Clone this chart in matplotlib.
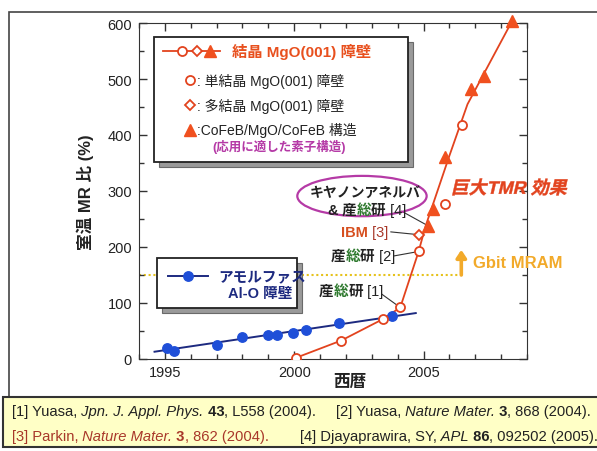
import matplotlib.pyplot as plt
from matplotlib.font_manager import FontProperties
from matplotlib.patches import Ellipse, PathPatch, Rectangle
from matplotlib.textpath import TextPath
from matplotlib.ticker import MultipleLocator
from matplotlib.transforms import Affine2D, ScaledTranslation

plt.rcParams['font.family'] = ['Liberation Sans', 'Noto Sans CJK JP']

# amorphous Al-O barrier
alo_years = [1995.1, 1995.35, 1997.0, 1998.0, 1999.0, 1999.35, 1999.95, 2000.45, 2001.75, 2003.78]
alo_mr = [20, 14, 25, 39, 43, 43, 46, 52, 64, 76]
alo_fit_years = [1994.6, 2004.7]
alo_fit_mr = [13, 82]

# crystalline MgO(001) barriers
sc_years = [2000.06, 2001.82, 2003.42, 2004.1, 2004.81, 2005.83, 2006.47]
sc_mr = [2, 33, 71, 92, 192, 276, 417]
poly_years = [2004.81]
poly_mr = [222]
cofeb_years = [2005.17, 2005.38, 2005.83, 2006.83, 2007.35, 2008.43]
cofeb_mr = [238, 268, 360, 482, 505, 604]
mgo_fit_years = [2000.06, 2001.82, 2003.42, 2004.1, 2004.81, 2005.07, 2006.0, 2006.7, 2008.43]
mgo_fit_mr = [2, 33, 71, 92, 192, 236, 363, 455, 604]

gbit_level = 150
gbit_span = [1994.0, 2006.35]

references = [
    ("[1] Yuasa,", " Jpn. J. Appl. Phys.", " 43", ", L558 (2004)."),
    ("[2] Yuasa,", " Nature Mater.", " 3", ", 868 (2004)."),
    ("[3] Parkin,", " Nature Mater.", " 3", ", 862 (2004)."),
    ("[4] Djayaprawira, SY,", " APL", " 86", ", 092502 (2005)."),
]

RED = '#e2431e'
TRI = '#f0501f'
NAVY = '#1d2a80'
BLUE = '#1f4fd8'
DARK = '#222222'
GREEN = '#2f7a2f'
MAGENTA = '#b53aa6'
GOLD = '#e6c21c'
ORANGE = '#f2aa2a'
BROWN = '#a8382a'


def chain_text(ax, x, y, pieces, size, transform=None, zorder=7):
    """Write text pieces with different styles one after another."""
    if transform is None:
        transform = ax.transData
    s, kw = pieces[0]
    first = ax.text(x, y, s, transform=transform, fontsize=size, ha='left',
                    va='center', zorder=zorder, **kw)
    t = first
    for s, kw in pieces[1:]:
        t = ax.annotate(s, xy=(1, 0), xycoords=t, fontsize=size, ha='left',
                        va='bottom', zorder=zorder, **kw)
    return first, t


def aist(tag, color=DARK):
    return [("産", dict(color=DARK, fontweight='bold')),
            ("総", dict(color=GREEN, fontweight='bold')),
            ("研", dict(color=DARK, fontweight='bold')),
            (tag, dict(color=color))]


fig = plt.figure(figsize=(5.97, 4.52), dpi=100)
ax = fig.add_axes([139 / 597, 92 / 452, 388 / 597, 336 / 452])

# overlay for the outer frame and the reference box
ov = fig.add_axes([0, 0, 1, 1], zorder=-1)
ov.axis('off')
ov.set_xlim(0, 1)
ov.set_ylim(0, 1)
ov.add_patch(Rectangle((9 / 597, 54 / 452), 1.0, 385 / 452, fill=False,
                       ec='#444444', lw=1.2, clip_on=False))

foot = fig.add_axes([0, 0, 1, 1], zorder=3)
foot.axis('off')
foot.set_xlim(0, 1)
foot.set_ylim(0, 1)
foot.add_patch(Rectangle((3 / 597, 4 / 452), 1.0, 50 / 452, fc='#ffffc6',
                         ec='#333333', lw=1.5, clip_on=False))
# left entries start at a fixed x, right entries end at a fixed x (pixels)
ref_pos = [(12, 0.0885, DARK, 'left'), (591, 0.0885, DARK, 'right'),
           (12, 0.0332, BROWN, 'left'), (598, 0.0332, DARK, 'right')]
right_groups = []
for (lead, journal, vol, rest), (px, fy, col, side) in zip(references, ref_pos):
    first, last = chain_text(foot, px / 597, fy,
                             [(lead, dict(color=col)),
                              (journal, dict(color=col, style='italic')),
                              (vol, dict(color=col, fontweight='bold')),
                              (rest, dict(color=col))],
                             size=10.6, transform=foot.transAxes)
    if side == 'right':
        right_groups.append((first, last, px))

fig.canvas.draw()
for first, last, px in right_groups:
    x1 = last.get_window_extent().x1
    x0, y0 = first.get_position()
    first.set_position((x0 + (px - x1) / 597, y0))

# data
ax.plot(gbit_span, [gbit_level] * 2, color=GOLD, lw=1.5, ls=(0, (1, 1.3)), zorder=1)
ax.plot(alo_fit_years, alo_fit_mr, color=NAVY, lw=1.4, zorder=3)
ax.plot(alo_years, alo_mr, 'o', ls='none', ms=6.8, color=BLUE, zorder=4)
ax.plot(mgo_fit_years, mgo_fit_mr, color=RED, lw=1.3, zorder=3, clip_on=False)
ax.plot(sc_years, sc_mr, 'o', ls='none', ms=6.5, mfc='white', mec=RED, mew=1.3, zorder=5)
ax.plot(poly_years, poly_mr, 'D', ls='none', ms=5.5, mfc='white', mec=RED, mew=1.3, zorder=5)
ax.plot(cofeb_years, cofeb_mr, '^', ls='none', ms=9, color=TRI, zorder=5, clip_on=False)

ax.set_xlim(1994, 2009)
ax.set_ylim(0, 600)
ax.xaxis.set_major_locator(MultipleLocator(5))
ax.xaxis.set_minor_locator(MultipleLocator(1))
ax.yaxis.set_major_locator(MultipleLocator(100))
ax.yaxis.set_minor_locator(MultipleLocator(50))
ax.tick_params(which='both', direction='in', top=True, right=True,
               width=1, colors='#333333', labelcolor=DARK, labelsize=10.5)
ax.tick_params(which='major', length=6)
ax.tick_params(which='minor', length=3.5)
ax.tick_params(axis='x', pad=4.5)
ax.tick_params(axis='y', pad=5)
for sp in ax.spines.values():
    sp.set_color('#333333')

ax.set_ylabel("室温 MR 比 (%)", fontsize=12, fontweight='bold', color=DARK)
ax.yaxis.set_label_coords(-0.117, 0.5)
ax.set_xlabel("西暦", fontsize=12, fontweight='bold', color=DARK)
ax.xaxis.set_label_coords(0.544, -0.045)

# Gbit MRAM threshold
ax.annotate('', xy=(2006.46, 195), xytext=(2006.46, gbit_level),
            arrowprops=dict(arrowstyle='-|>,head_width=0.3,head_length=0.45',
                            color=ORANGE, lw=2.6, shrinkA=0, shrinkB=0))
ax.text(2006.92, 173, "Gbit MRAM", fontsize=12, fontweight='bold',
        color=ORANGE, ha='left', va='center')

# group labels with leader lines
leader = dict(arrowstyle='-', color='#333333', lw=0.8, shrinkA=0, shrinkB=0)
ax.annotate('', xy=(sc_years[3], sc_mr[3]), xytext=(2003.38, 116), arrowprops=leader, zorder=2)
ax.annotate('', xy=(sc_years[4], sc_mr[4]), xytext=(2003.85, 184), arrowprops=leader, zorder=2)
ax.annotate('', xy=(poly_years[0], poly_mr[0]), xytext=(2003.73, 227), arrowprops=leader, zorder=2)
ax.annotate('', xy=(cofeb_years[0], cofeb_mr[0]), xytext=(2004.15, 264), arrowprops=leader, zorder=2)

chain_text(ax, 2000.96, 121, aist(" [1]"), size=10.5)
chain_text(ax, 2001.42, 184, aist(" [2]"), size=10.5)
chain_text(ax, 2001.81, 227, [("IBM", dict(color='#d64f1f', fontweight='bold')),
                              (" [3]", dict(color=BROWN))], size=10.5)
ax.text(2002.73, 298, "キヤノンアネルバ", fontsize=10, fontweight='bold',
        color=DARK, ha='center', va='center', zorder=7)
chain_text(ax, 2001.27, 266, [("&", dict(color=DARK, fontweight='bold'))]
           + [(" 産", dict(color=DARK, fontweight='bold'))]
           + aist(" [4]")[1:], size=10.5)
ax.add_patch(Ellipse((2002.62, 291), 5.0, 72, fill=False, ec=MAGENTA, lw=1.6, zorder=6))

# slanted "giant TMR" caption
prop = FontProperties(family=['Liberation Sans', 'Noto Sans CJK JP'], weight='bold')
tp = TextPath((0, 0), "巨大TMR 効果", size=13, prop=prop)
trans = (Affine2D().skew_deg(13, 0).scale(1 / 72) + fig.dpi_scale_trans
         + ScaledTranslation(2006.04, 295, ax.transData))
ax.add_artist(PathPatch(tp, transform=trans, fc=RED, ec=RED, lw=0.3,
                        zorder=7, clip_on=False))

# MgO legend box
ta = ax.transAxes
ax.add_patch(Rectangle((0.0387 + 0.013, 0.586 - 0.015), 0.654, 0.372, transform=ta,
                       fc='#9a9a9a', ec='#6a6a6a', lw=0.8, zorder=6))
ax.add_patch(Rectangle((0.0387, 0.586), 0.654, 0.372, transform=ta,
                       fc='white', ec='#222222', lw=1.3, zorder=6.5))
ax.plot([0.062, 0.209], [0.917, 0.917], transform=ta, color=RED, lw=1.3, zorder=7)
ax.plot([0.111], [0.917], 'o', transform=ta, ms=6.5, mfc='white', mec=RED, mew=1.3, zorder=8)
ax.plot([0.149], [0.917], 'D', transform=ta, ms=5.5, mfc='white', mec=RED, mew=1.3, zorder=8)
ax.plot([0.183], [0.917], '^', transform=ta, ms=9, color=TRI, zorder=8)
ax.text(0.240, 0.917, "結晶 MgO(001) 障壁", transform=ta, fontsize=11,
        fontweight='bold', color='#e8501e', ha='left', va='center', zorder=8)
rows = [('o', dict(ms=6.5, mfc='white', mec=RED, mew=1.3), 0.830, ": 単結晶 MgO(001) 障壁"),
        ('D', dict(ms=5.5, mfc='white', mec=RED, mew=1.3), 0.756, ": 多結晶 MgO(001) 障壁"),
        ('^', dict(ms=9, color=TRI), 0.682, ":CoFeB/MgO/CoFeB 構造")]
for mk, style, fy, label in rows:
    ax.plot([0.131], [fy], mk, transform=ta, zorder=8, **style)
    ax.text(0.150, fy, label, transform=ta, fontsize=10, color=DARK,
            ha='left', va='center', zorder=8)
ax.text(0.188, 0.634, "(応用に適した素子構造)", transform=ta, fontsize=9,
        fontweight='bold', color=MAGENTA, ha='left', va='center', zorder=8)

# Al-O legend box
ax.add_patch(Rectangle((0.0464 + 0.013, 0.152 - 0.015), 0.361, 0.149, transform=ta,
                       fc='#9a9a9a', ec='#6a6a6a', lw=0.8, zorder=6))
ax.add_patch(Rectangle((0.0464, 0.152), 0.361, 0.149, transform=ta,
                       fc='white', ec='#222222', lw=1.3, zorder=6.5))
ax.plot([0.075, 0.178], [0.247, 0.247], transform=ta, color=NAVY, lw=1.4, zorder=7)
ax.plot([0.126], [0.247], 'o', transform=ta, ms=6.8, color=BLUE, zorder=8)
ax.text(0.318, 0.247, "アモルファス", transform=ta, fontsize=10.5, fontweight='bold',
        color=NAVY, ha='center', va='center', zorder=8)
ax.text(0.312, 0.196, "Al-O 障壁", transform=ta, fontsize=10.5, fontweight='bold',
        color=NAVY, ha='center', va='center', zorder=8)

fig.savefig('out.png', dpi=100)
